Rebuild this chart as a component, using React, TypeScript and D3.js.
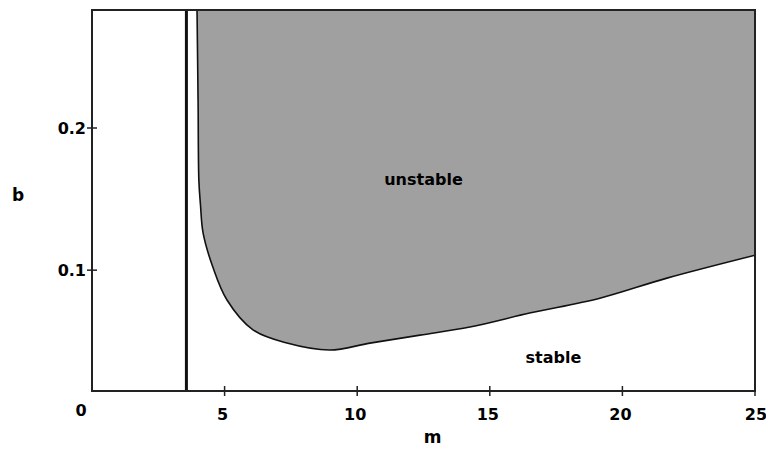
import React from 'react';
import * as d3 from 'd3';

// stability boundary b(m)
const boundaryM = [3.96, 4.0, 4.03, 4.09, 4.19, 4.56, 5.09, 6.07, 7.35, 8.97, 10.48, 12.37, 14.25, 16.5, 19.15, 21.68, 25];
const boundaryB = [0.283, 0.219, 0.163, 0.146, 0.126, 0.102, 0.079, 0.058, 0.0487, 0.0438, 0.0487, 0.0543, 0.06, 0.0698, 0.0803, 0.0944, 0.1105];

const criticalM = 3.56;
const xTicks = [5, 10, 15, 20, 25];
const yTicks = [0.1, 0.2];
const regionLabels = [
    { text: 'unstable', m: 12.5, b: 0.164 },
    { text: 'stable', m: 17.4, b: 0.039 },
];

const width = 766;
const height = 451;
const margin = { top: 10, right: 11, bottom: 60, left: 92 };
const font = '"DejaVu Sans", sans-serif';

const App = () => {
    const x = d3.scaleLinear().domain([0, 25]).range([margin.left, width - margin.right]);
    const y = d3.scaleLinear().domain([0.015, 0.283]).range([height - margin.bottom, margin.top]);

    const data = boundaryM.map((m, i) => ({ m, b: boundaryB[i] }));

    const line = d3.line<{ m: number; b: number }>()
        .x(d => x(d.m))
        .y(d => y(d.b))
        .curve(d3.curveCatmullRom.alpha(0.5));

    const area = d3.area<{ m: number; b: number }>()
        .x(d => x(d.m))
        .y0(y(0.283))
        .y1(d => y(d.b))
        .curve(d3.curveCatmullRom.alpha(0.5));

    const [x0, x1] = x.range();
    const [yb, yt] = y.range();

    return (
        <svg width={width} height={height} style={{ position: 'absolute', left: 0, top: 0, background: '#fff' }}>
            <defs>
                <clipPath id="plot">
                    <rect x={x0} y={yt} width={x1 - x0} height={yb - yt} />
                </clipPath>
            </defs>
            <g clipPath="url(#plot)">
                <path d={area(data) || ''} fill="#a0a0a0" />
                <path d={line(data) || ''} fill="none" stroke="#111" strokeWidth={1.6} />
            </g>
            <line x1={x(criticalM)} x2={x(criticalM)} y1={yt} y2={yb} stroke="#111" strokeWidth={3} />
            <rect x={x0} y={yt} width={x1 - x0} height={yb - yt} fill="none" stroke="#222" strokeWidth={2} />

            {xTicks.map(t => (
                <g key={t}>
                    <line x1={x(t)} x2={x(t)} y1={yb - 5} y2={yb + 5} stroke="#222" strokeWidth={1.5} />
                    <text x={x(t) - (t === 25 ? -1 : 2)} y={yb + 29} textAnchor="middle" fontFamily={font} fontWeight="bold" fontSize={16}>{t}</text>
                </g>
            ))}
            {yTicks.map(t => (
                <g key={t}>
                    <line x1={x0 - 5} x2={x0 + 5} y1={y(t)} y2={y(t)} stroke="#222" strokeWidth={1.5} />
                    <text x={x0 - 6} y={y(t) + 6} textAnchor="end" fontFamily={font} fontWeight="bold" fontSize={16}>{t}</text>
                </g>
            ))}
            <text x={x0 - 11} y={yb + 25} textAnchor="middle" fontFamily={font} fontWeight="bold" fontSize={16}>0</text>

            <text x={(x0 + x1) / 2 + 9} y={height - 8} textAnchor="middle" fontFamily={font} fontWeight="bold" fontSize={17}>m</text>
            <text x={18} y={201} textAnchor="middle" fontFamily={font} fontWeight="bold" fontSize={17}>b</text>

            {regionLabels.map(l => (
                <text key={l.text} x={x(l.m)} y={y(l.b) + 6} textAnchor="middle" fontFamily={font} fontWeight="bold" fontSize={16}>{l.text}</text>
            ))}
        </svg>
    );
};

export default App;
